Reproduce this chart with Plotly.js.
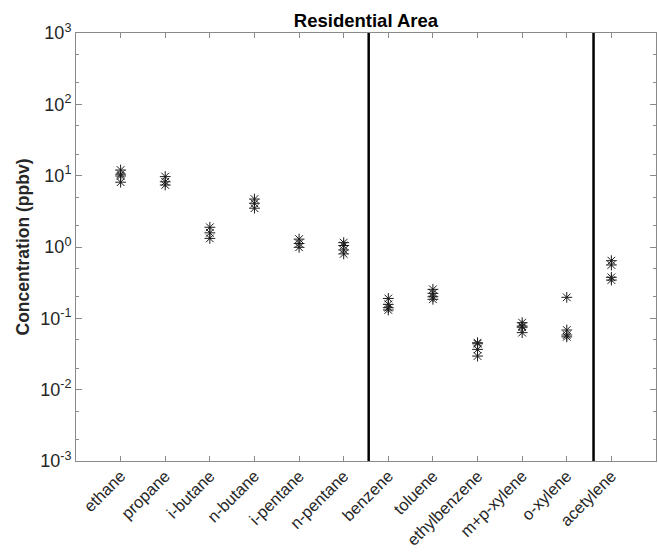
<!DOCTYPE html>
<html>
<head>
<meta charset="utf-8">
<script src="https://cdn.plot.ly/plotly-3.0.1.min.js"></script>
<style>
  html, body { margin: 0; padding: 0; background: #fff; }
  #chart { width: 658px; height: 552px; }
</style>
</head>
<body>
<div id="chart"></div>
<script>
// Compound names, in plotting order
const compounds = ['ethane', 'propane', 'i-butane', 'n-butane', 'i-pentane', 'n-pentane',
                   'benzene', 'toluene', 'ethylbenzene', 'm+p-xylene', 'o-xylene', 'acetylene'];

// Measured concentrations (ppbv) for each compound
const ethane       = [12.0, 10.5, 9.9, 8.1];
const propane      = [9.7, 8.2, 7.4];
const iButane      = [1.89, 1.58, 1.32];
const nButane      = [4.7, 4.1, 3.5];
const iPentane     = [1.29, 1.12, 0.99];
const nPentane     = [1.15, 1.05, 0.91, 0.80];
const benzene      = [0.19, 0.157, 0.141, 0.131];
const toluene      = [0.255, 0.224, 0.201, 0.185];
const ethylbenzene = [0.0455, 0.044, 0.0367, 0.0296];
const mpXylene     = [0.0869, 0.078, 0.075, 0.063];
const oXylene      = [0.197, 0.0686, 0.0584, 0.055];
const acetylene    = [0.643, 0.56, 0.376, 0.344];

const byCompound = [ethane, propane, iButane, nButane, iPentane, nPentane,
                    benzene, toluene, ethylbenzene, mpXylene, oXylene, acetylene];

// Separators between alkanes | aromatics | alkyne (axis units)
const groupBreaks = [6.56, 11.6];

// Log-axis tick labels
const yTickVals = [1e-3, 1e-2, 1e-1, 1e0, 1e1, 1e2, 1e3];
const yTickText = ['10<sup>-3</sup>', '10<sup>-2</sup>', '10<sup>-1</sup>', '10<sup>0</sup>',
                   '10<sup>1</sup>', '10<sup>2</sup>', '10<sup>3</sup>'];

const xs = [], ys = [];
byCompound.forEach((vals, i) => {
  vals.forEach(v => { xs.push(i + 1); ys.push(v); });
});

const axisColor = '#8a8a8a';
const textColor = '#262626';
const font = 'Liberation Sans, Arial, Helvetica, sans-serif';

const traces = [{
  type: 'scatter',
  mode: 'markers',
  x: xs,
  y: ys,
  marker: {
    symbol: 'asterisk-open',
    size: 9,
    color: '#1a1a1a',
    line: { color: '#1a1a1a', width: 1 }
  },
  hoverinfo: 'x+y',
  showlegend: false
}];

const shapes = groupBreaks.map(xb => ({
  type: 'line',
  xref: 'x', yref: 'paper',
  x0: xb, x1: xb, y0: 0, y1: 1,
  line: { color: '#000', width: 2.5 }
}));

const layout = {
  width: 658,
  height: 552,
  margin: { l: 76, r: 2, t: 33, b: 91 },
  paper_bgcolor: '#fff',
  plot_bgcolor: '#fff',
  font: { family: font, color: textColor },
  title: {
    text: '<b>Residential Area</b>',
    font: { family: font, size: 18.5, color: '#000' },
    xref: 'paper', x: 0.5, xanchor: 'center',
    y: 0.963, yanchor: 'middle'
  },
  xaxis: {
    range: [0, 13],
    tickvals: compounds.map((_, i) => i + 1),
    ticktext: compounds,
    tickangle: -45,
    tickfont: { family: font, size: 16.5, color: textColor },
    ticklabelstandoff: -2,
    ticks: 'inside',
    ticklen: 5,
    tickcolor: axisColor,
    showline: true,
    linecolor: axisColor,
    linewidth: 1,
    mirror: 'ticks',
    showgrid: false,
    zeroline: false
  },
  yaxis: {
    type: 'log',
    range: [-3, 3],
    tickvals: yTickVals,
    ticktext: yTickText,
    tickfont: { family: font, size: 18, color: textColor },
    ticks: 'inside',
    ticklen: 6,
    tickcolor: axisColor,
    minor: { ticks: 'inside', ticklen: 3, tickcolor: axisColor, showgrid: false },
    showline: true,
    linecolor: axisColor,
    linewidth: 1,
    mirror: 'ticks',
    showgrid: false,
    zeroline: false,
    title: {
      text: '<b>Concentration (ppbv)</b>',
      font: { family: font, size: 17.5, color: textColor },
      standoff: 6
    }
  },
  shapes: shapes
};

Plotly.newPlot('chart', traces, layout, { displayModeBar: false, staticPlot: true });
</script>
</body>
</html>
